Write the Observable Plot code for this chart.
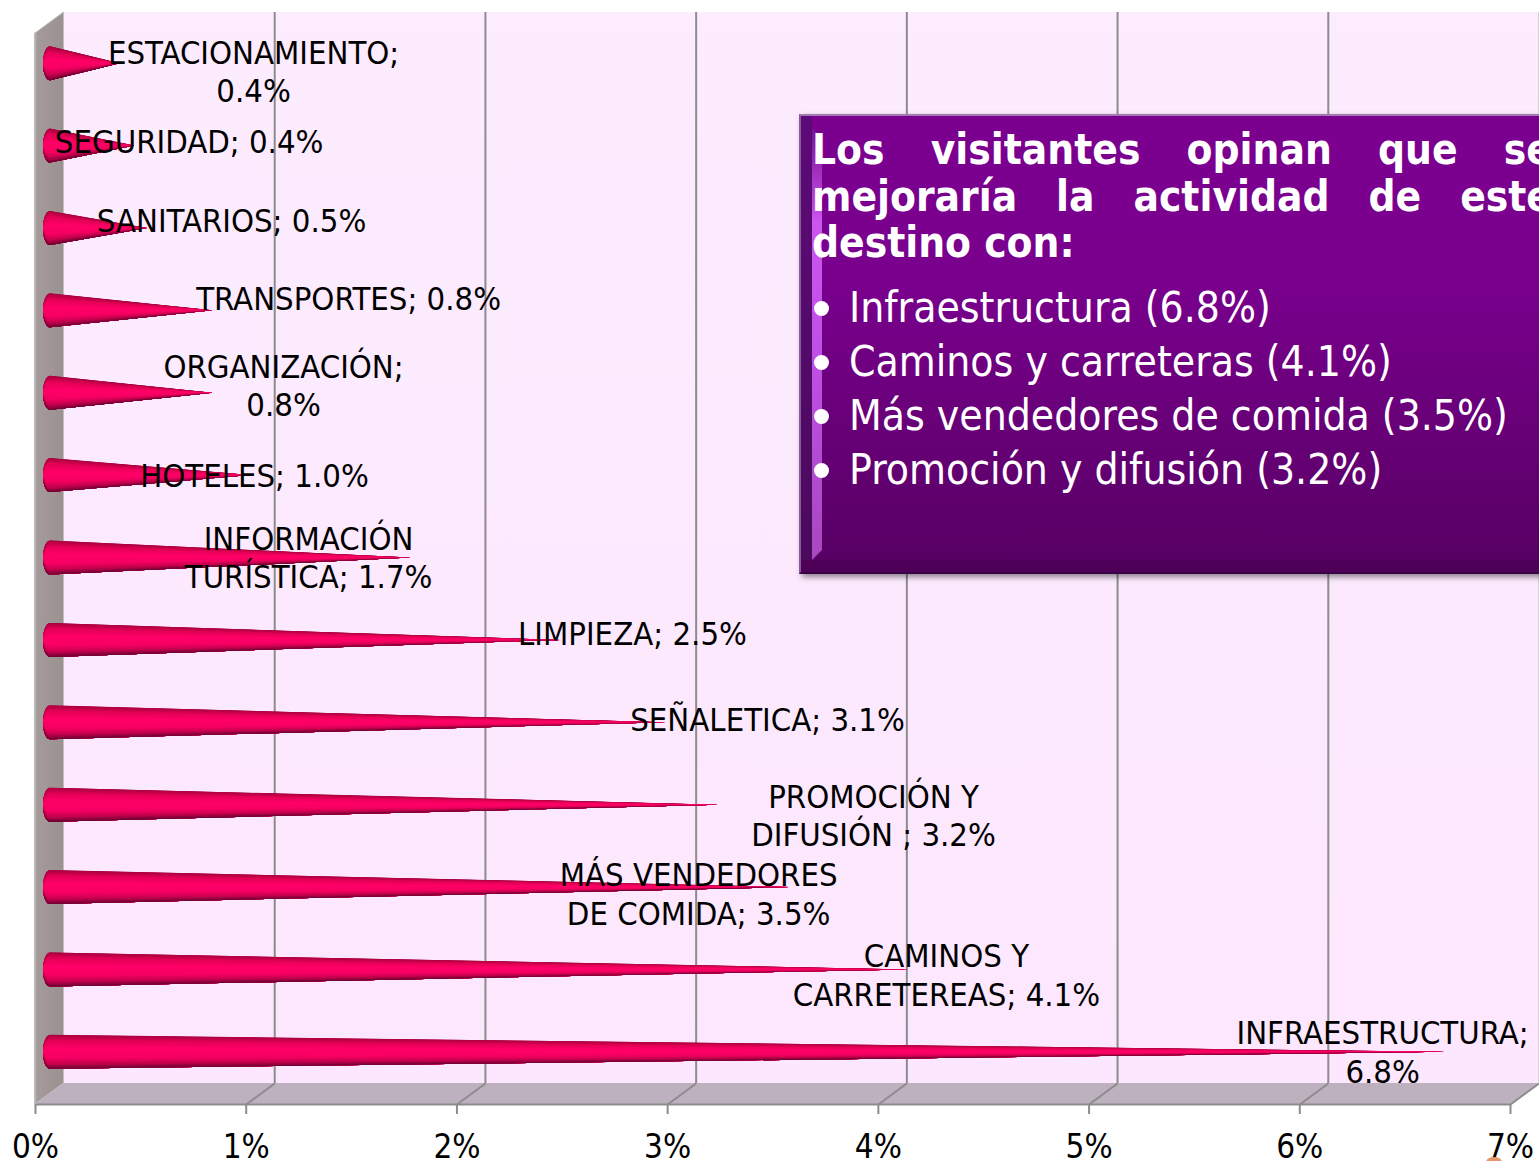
<!DOCTYPE html>
<html><head><meta charset="utf-8">
<script src="https://cdn.jsdelivr.net/npm/d3@7"></script>
<script src="https://cdn.jsdelivr.net/npm/@observablehq/plot@0.6"></script>
<style>
html,body{margin:0;padding:0;background:#fff;overflow:hidden}
#stage{position:relative;width:1539px;height:1161px;overflow:hidden;font-family:"DejaVu Sans Condensed","DejaVu Sans",sans-serif;font-stretch:condensed}
#stage svg{position:absolute;left:0;top:0;font-stretch:condensed}
#panel{position:absolute;left:799px;top:114px;width:800px;height:460px;box-sizing:border-box;
 background:linear-gradient(#7b008f,#7a008e 35%,#560062);border-top:2px solid #a27ab0;border-left:2px solid #8a5a9a;border-bottom:2px solid #3c0048;box-shadow:3px 3px 6px rgba(0,0,0,.45)}
#bevelL{position:absolute;left:0;top:0;bottom:0;width:11px;background:linear-gradient(#5c0a78,#4a0a5c)}
#bevelB{position:absolute;left:0;right:0;bottom:0;height:12px;background:#4e0058}
#glow{position:absolute;left:11px;top:12px;bottom:12px;width:10px;background:linear-gradient(#7b1095 0,#cc55ee 22%,#c050e6 50%,#a848c0 100%);clip-path:polygon(0 0,100% 8px,100% calc(100% - 10px),0 100%)}
#head{position:absolute;left:11px;top:11px;width:740px;color:#fff;font-weight:700;font-size:42px;line-height:46.5px;text-align:justify;text-align-last:justify}
#head div:last-child{text-align-last:left}
#list{position:absolute;left:11px;top:165px;margin:0;padding:0;list-style:none;color:#fff;font-size:42.2px;line-height:54px;white-space:nowrap}
#list li{padding-left:37px;position:relative}
#list li::before{content:"";position:absolute;left:2px;top:20px;width:15px;height:15px;border-radius:50%;background:#fff}
#blob{position:absolute;left:1486px;top:1157px;width:16px;height:10px;border-radius:50%;background:#e8946a}
</style></head><body>
<div id="stage"><div id="chart"></div>
<div id="panel"><div id="bevelL"></div><div id="bevelB"></div><div id="glow"></div>
<div id="head"><div>Los visitantes opinan que se</div><div>mejoraría la actividad de este</div><div>destino con:</div></div>
<ul id="list"><li>Infraestructura (6.8%)</li><li>Caminos y carreteras (4.1%)</li><li>Más vendedores de comida (3.5%)</li><li>Promoción y difusión (3.2%)</li></ul>
</div><div id="blob"></div></div>
<script>
// Categories, top to bottom
const names = ["ESTACIONAMIENTO","SEGURIDAD","SANITARIOS","TRANSPORTES","ORGANIZACIÓN","HOTELES","INFORMACIÓN\nTURÍSTICA","LIMPIEZA","SEÑALETICA","PROMOCIÓN Y\nDIFUSIÓN ","MÁS VENDEDORES\nDE COMIDA","CAMINOS Y\nCARRETEREAS","INFRAESTRUCTURA"];
// Values as labelled (%)
const values = [0.4,0.4,0.5,0.8,0.8,1.0,1.7,2.5,3.1,3.2,3.5,4.1,6.8];
// Visible reach of each cone as read on the axis (%)
const reach = [0.33,0.40,0.46,0.77,0.77,0.95,1.71,2.42,2.92,3.17,3.51,4.07,6.62];
// Value wrapped on its own line
const wrapValue = [true,false,false,false,true,false,false,false,false,false,false,false,true];
// Label anchor, in axis % and row units
const labelX = [1.035,0.729,0.930,1.486,1.177,1.039,1.296,2.833,3.474,3.977,3.147,4.323,6.393];
const labelY = [0.455,1.311,2.270,3.217,4.267,5.365,6.355,7.283,8.327,9.486,10.439,11.423,12.357];
const xTicks = [0,1,2,3,4,5,6,7];

// Layout of the pseudo-3D box
const W = 1539, H = 1161, unitX = 1475/7, unitY = 1071/13;
const depthX = 28.5, depthY = -21, dX = depthX/unitX, dY = depthY/unitY;
const coneDx = 15, coneDy = -11, coneR = 17/unitY, capW = 7/unitX;

// Cone geometry: radius profile along the axis, split into shading bands
const ramp = d3.scaleLinear().domain([-1,-0.65,-0.2,0.35,0.72,1]).range(["#a8003f","#e40056","#ff0067","#f70063","#c4004d","#6e0032"]).interpolate(d3.interpolateRgb);
const bands = d3.range(28).map(i => { const a = -Math.PI/2 + i/28*Math.PI; const b = -Math.PI/2 + (i+1)/28*Math.PI; return {f: Math.sin(a), c: ramp(Math.sin((a+b)/2))}; });
const profile = names.flatMap((name,i) => {
  const cap = d3.range(0,13).map(k => { const th = Math.PI/2*k/12; return {x: -capW*Math.cos(th), r: coneR*Math.sin(th)}; });
  return [...cap, {x: reach[i], r: 0}].map(p => ({name, row: i+0.5, x: p.x, r: p.r}));
});
const coneMarks = bands.map(b => Plot.areaY(profile, {
  x: "x", y1: d => d.row + d.r*b.f, y2: d => d.row + d.r, z: "name",
  fill: b.c, dx: coneDx, dy: coneDy
}));

// Box faces
const backWall = Plot.rect([0], {x1: 0, x2: 7, y1: 0, y2: 13, dx: depthX, dy: depthY, fill: "url(#wallGrad)"});
const sideWall = Plot.areaY([{x:0,y1:0,y2:13},{x:dX,y1:dY,y2:13+dY}], {x:"x",y1:"y1",y2:"y2",fill:"url(#sideGrad)",stroke:"#c4bdbd",strokeWidth:1});
const floor = Plot.areaY([{x:0,y1:13,y2:13},{x:dX,y1:13+dY,y2:13},{x:7,y1:13+dY,y2:13},{x:7+dX,y1:13+dY,y2:13+dY}], {x:"x",y1:"y1",y2:"y2",fill:"#bdb0bf"});

const labels = names.map((n,i) => ({x: labelX[i], y: labelY[i], text: `${n};${wrapValue[i] ? "\n" : " "}${values[i].toFixed(1)}%`}));

const chart = Plot.plot({
  width: W, height: H, marginTop: 33, marginBottom: 57, marginLeft: 35, marginRight: 29,
  style: {background: "transparent", fontFamily: '"DejaVu Sans Condensed","DejaVu Sans",sans-serif'},
  x: {domain: [0,7], range: [35,1510], axis: null},
  y: {domain: [0,13], range: [33,1104], axis: null},
  marks: [
    () => {
      const s = d3.create("svg:g");
      const defs = s.append("defs");
      const w = defs.append("linearGradient").attr("id","wallGrad").attr("x1",0).attr("x2",0).attr("y1",0).attr("y2",1);
      w.append("stop").attr("offset",0).attr("stop-color","#fcecfe");
      w.append("stop").attr("offset",1).attr("stop-color","#fde7fe");
      const g = defs.append("linearGradient").attr("id","sideGrad").attr("x1",0).attr("x2",1).attr("y1",0).attr("y2",0);
      g.append("stop").attr("offset",0).attr("stop-color","#a59b9b");
      g.append("stop").attr("offset",1).attr("stop-color","#9c9191");
      return s.node();
    },
    backWall, sideWall, floor,
    Plot.ruleX(xTicks.slice(1,-1).concat([7]), {x: d=>d, y1: 0, y2: 13, dx: depthX, dy: depthY, stroke: d => d===7 ? "#d8d0d8" : "#8c8c8c", strokeWidth: 2}),
    Plot.link(xTicks.slice(1), {x1: d=>d, y1: 13, x2: d=>d+dX, y2: 13+dY, stroke: "#8c8c8c", strokeWidth: 2}),
    Plot.ruleY([13], {x1: 0, x2: 7, stroke: "#8c8c8c", strokeWidth: 2}),
    Plot.ruleX([0], {y1: dY+0.25, y2: 13, stroke: "#b4b0b0", strokeWidth: 2}),
    ...coneMarks,
    Plot.axisX(xTicks, {anchor: "bottom", label: null, tickSize: 10, tickPadding: 20, tickFormat: d => d + "%", fontSize: 33, stroke: "#8c8c8c", strokeWidth: 2, fill: "#000", lineAnchor: "top"}),
    Plot.text(labels, {x: "x", y: "y", text: "text", fontSize: 32.6, lineHeight: 1.19, dy: -0.5, textAnchor: "middle", lineAnchor: "middle", fill: "#000"})
  ]
});
document.getElementById("chart").appendChild(chart);
</script></body></html>
